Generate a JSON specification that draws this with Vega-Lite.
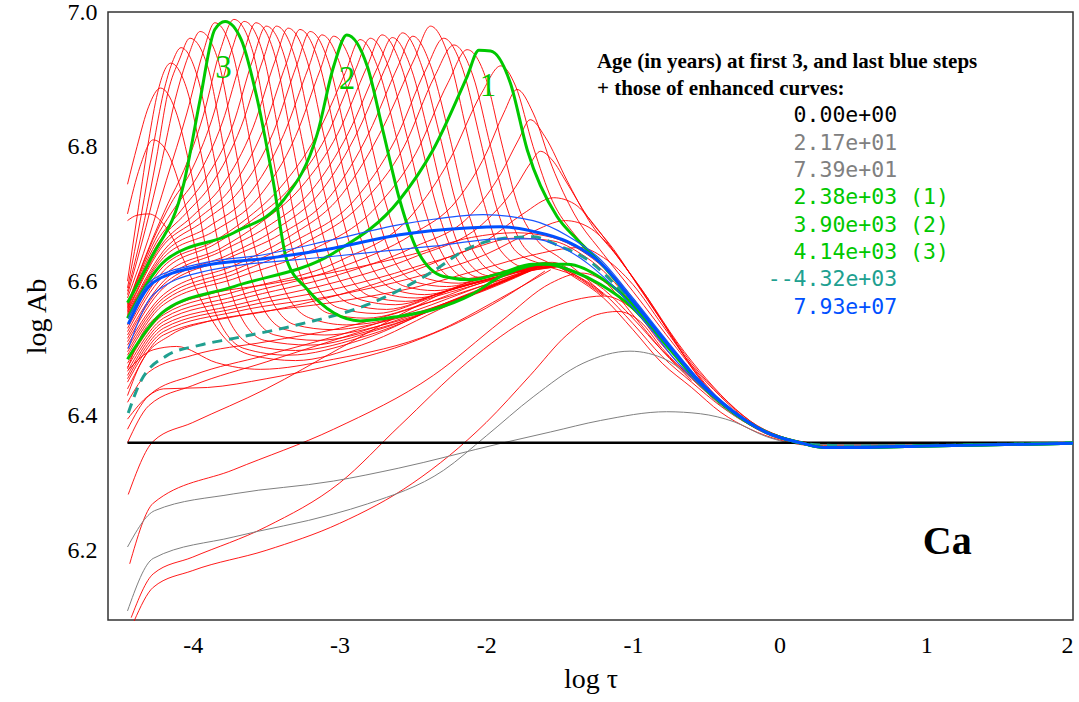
{
"$schema":"https://vega.github.io/schema/vega-lite/v6.json",
"width":965,"height":608,
"autosize":{"type":"none"},
"padding":{"left":108,"top":12,"right":6,"bottom":82},
"background":"white",
"config":{"view":{"stroke":"#333333","strokeWidth":1.5},"font":"Liberation Serif"},
"datasets":{
"red":[
{"c":"A1","x":-4.42,"y":6.1},{"c":"A1","x":-4.27,"y":6.165},{"c":"A1","x":-4.0,"y":6.19},{"c":"A1","x":-3.5,"y":6.235},{"c":"A1","x":-3.0,"y":6.3},{"c":"A1","x":-2.59,"y":6.385},{"c":"A1","x":-2.13,"y":6.479},{"c":"A1","x":-1.68,"y":6.548},{"c":"A1","x":-1.4,"y":6.572},{"c":"A1","x":-1.2,"y":6.578},{"c":"A1","x":-1.0,"y":6.558},{"c":"A1","x":-0.8,"y":6.505},{"c":"A1","x":-0.6,"y":6.457},{"c":"A1","x":-0.4,"y":6.418},{"c":"A1","x":-0.2,"y":6.388},{"c":"A1","x":0,"y":6.369},{"c":"A1","x":0.2,"y":6.36},{"c":"A1","x":0.6,"y":6.357},{"c":"A1","x":2.0,"y":6.36},
{"c":"A2","x":-4.4,"y":6.095},{"c":"A2","x":-4.27,"y":6.145},{"c":"A2","x":-4.0,"y":6.17},{"c":"A2","x":-3.5,"y":6.2},{"c":"A2","x":-3.0,"y":6.24},{"c":"A2","x":-2.5,"y":6.3},{"c":"A2","x":-2.0,"y":6.39},{"c":"A2","x":-1.7,"y":6.46},{"c":"A2","x":-1.45,"y":6.52},{"c":"A2","x":-1.25,"y":6.55},{"c":"A2","x":-1.1,"y":6.555},{"c":"A2","x":-0.95,"y":6.54},{"c":"A2","x":-0.8,"y":6.5},{"c":"A2","x":-0.6,"y":6.455},{"c":"A2","x":-0.4,"y":6.417},{"c":"A2","x":-0.2,"y":6.387},{"c":"A2","x":0,"y":6.368},{"c":"A2","x":0.2,"y":6.359},{"c":"A2","x":0.6,"y":6.357},{"c":"A2","x":2.0,"y":6.36},
{"c":"A3","x":-4.43,"y":6.18},{"c":"A3","x":-4.27,"y":6.27},{"c":"A3","x":-3.72,"y":6.32},{"c":"A3","x":-3.04,"y":6.38},{"c":"A3","x":-2.36,"y":6.46},{"c":"A3","x":-1.9,"y":6.54},{"c":"A3","x":-1.56,"y":6.597},{"c":"A3","x":-1.35,"y":6.612},{"c":"A3","x":-1.2,"y":6.6},{"c":"A3","x":-1.0,"y":6.55},{"c":"A3","x":-0.8,"y":6.497},{"c":"A3","x":-0.6,"y":6.452},
{"c":"A4","x":-4.44,"y":6.283},{"c":"A4","x":-4.27,"y":6.362},{"c":"A4","x":-4.0,"y":6.39},{"c":"A4","x":-3.5,"y":6.44},{"c":"A4","x":-3.0,"y":6.5},{"c":"A4","x":-2.5,"y":6.56},{"c":"A4","x":-2.13,"y":6.598},{"c":"A4","x":-1.8,"y":6.618},{"c":"A4","x":-1.5,"y":6.625},
{"c":"A5","x":-4.445,"y":6.36},{"c":"A5","x":-4.3,"y":6.415},{"c":"A5","x":-4.0,"y":6.445},{"c":"A5","x":-3.5,"y":6.48},{"c":"A5","x":-3.0,"y":6.515},{"c":"A5","x":-2.5,"y":6.55},{"c":"A5","x":-2.0,"y":6.59},{"c":"A5","x":-1.7,"y":6.615},{"c":"A5","x":-1.5,"y":6.625},
{"c":"A6","x":-4.445,"y":6.38},{"c":"A6","x":-4.3,"y":6.43},{"c":"A6","x":-4.0,"y":6.46},{"c":"A6","x":-3.5,"y":6.49},{"c":"A6","x":-3.0,"y":6.52},{"c":"A6","x":-2.5,"y":6.555},{"c":"A6","x":-2.0,"y":6.595},{"c":"A6","x":-1.6,"y":6.624},
{"c":"A7","x":-4.445,"y":6.42},{"c":"A7","x":-4.3,"y":6.465},{"c":"A7","x":-4.0,"y":6.49},{"c":"A7","x":-3.5,"y":6.51},{"c":"A7","x":-3.0,"y":6.53},{"c":"A7","x":-2.5,"y":6.56},{"c":"A7","x":-2.0,"y":6.6},{"c":"A7","x":-1.6,"y":6.625},
{"c":"W01","x":-4.445,"y":6.44},{"c":"W01","x":-4.2,"y":6.52},{"c":"W01","x":-3.7,"y":6.548},{"c":"W01","x":-3.0,"y":6.57},{"c":"W01","x":-2.5,"y":6.59},{"c":"W01","x":-2.0,"y":6.62},{"c":"W01","x":-1.7,"y":6.638},{"c":"W01","x":-1.36,"y":6.65},{"c":"W01","x":-1.2,"y":6.635},{"c":"W01","x":-1.0,"y":6.595},{"c":"W01","x":-0.8,"y":6.535},{"c":"W01","x":-0.6,"y":6.475},{"c":"W01","x":-0.4,"y":6.428},{"c":"W01","x":-0.2,"y":6.39},{"c":"W01","x":0,"y":6.369},{"c":"W01","x":0.2,"y":6.36},{"c":"W01","x":2.0,"y":6.36},
{"c":"W02","x":-4.445,"y":6.45},{"c":"W02","x":-4.2,"y":6.525},{"c":"W02","x":-3.7,"y":6.555},{"c":"W02","x":-3.0,"y":6.58},{"c":"W02","x":-2.5,"y":6.605},{"c":"W02","x":-2.0,"y":6.64},{"c":"W02","x":-1.7,"y":6.672},{"c":"W02","x":-1.46,"y":6.69},{"c":"W02","x":-1.3,"y":6.68},{"c":"W02","x":-1.15,"y":6.65},{"c":"W02","x":-1.0,"y":6.605},{"c":"W02","x":-0.8,"y":6.54},{"c":"W02","x":-0.6,"y":6.478},{"c":"W02","x":-0.4,"y":6.43},{"c":"W02","x":-0.2,"y":6.392},{"c":"W02","x":0,"y":6.37},{"c":"W02","x":0.2,"y":6.36},{"c":"W02","x":2.0,"y":6.36},
{"c":"W03","x":-4.445,"y":6.455},{"c":"W03","x":-4.2,"y":6.53},{"c":"W03","x":-3.7,"y":6.56},{"c":"W03","x":-3.0,"y":6.59},{"c":"W03","x":-2.5,"y":6.62},{"c":"W03","x":-2.0,"y":6.66},{"c":"W03","x":-1.75,"y":6.7},{"c":"W03","x":-1.54,"y":6.724},{"c":"W03","x":-1.4,"y":6.715},{"c":"W03","x":-1.25,"y":6.68},{"c":"W03","x":-1.1,"y":6.635},{"c":"W03","x":-0.9,"y":6.575},{"c":"W03","x":-0.7,"y":6.51},{"c":"W03","x":-0.5,"y":6.455},{"c":"W03","x":-0.3,"y":6.41},{"c":"W03","x":-0.1,"y":6.378},{"c":"W03","x":0.2,"y":6.36},{"c":"W03","x":2.0,"y":6.36},
{"c":"W04","x":-4.445,"y":6.46},{"c":"W04","x":-4.2,"y":6.535},{"c":"W04","x":-3.7,"y":6.565},{"c":"W04","x":-3.0,"y":6.6},{"c":"W04","x":-2.5,"y":6.635},{"c":"W04","x":-2.0,"y":6.69},{"c":"W04","x":-1.8,"y":6.74},{"c":"W04","x":-1.7,"y":6.775},{"c":"W04","x":-1.63,"y":6.793},{"c":"W04","x":-1.55,"y":6.78},{"c":"W04","x":-1.45,"y":6.746},{"c":"W04","x":-1.31,"y":6.696},{"c":"W04","x":-1.13,"y":6.647},{"c":"W04","x":-0.95,"y":6.588},{"c":"W04","x":-0.77,"y":6.53},{"c":"W04","x":-0.54,"y":6.454},{"c":"W04","x":-0.31,"y":6.405},{"c":"W04","x":-0.1,"y":6.377},{"c":"W04","x":0.15,"y":6.36},{"c":"W04","x":2.0,"y":6.36},
{"c":"W05","x":-4.445,"y":6.466},{"c":"W05","x":-4.2,"y":6.54},{"c":"W05","x":-3.7,"y":6.572},{"c":"W05","x":-3.0,"y":6.61},{"c":"W05","x":-2.5,"y":6.65},{"c":"W05","x":-2.1,"y":6.7},{"c":"W05","x":-1.9,"y":6.76},{"c":"W05","x":-1.78,"y":6.81},{"c":"W05","x":-1.7,"y":6.84},{"c":"W05","x":-1.6,"y":6.815},{"c":"W05","x":-1.45,"y":6.75},{"c":"W05","x":-1.3,"y":6.69},{"c":"W05","x":-1.1,"y":6.635},{"c":"W05","x":-0.9,"y":6.575},{"c":"W05","x":-0.7,"y":6.505},{"c":"W05","x":-0.4,"y":6.422},{"c":"W05","x":-0.1,"y":6.375},{"c":"W05","x":0.2,"y":6.36},{"c":"W05","x":2.0,"y":6.36},
{"c":"W06","x":-4.445,"y":6.472},{"c":"W06","x":-4.2,"y":6.545},{"c":"W06","x":-3.7,"y":6.578},{"c":"W06","x":-3.0,"y":6.62},{"c":"W06","x":-2.5,"y":6.67},{"c":"W06","x":-2.2,"y":6.72},{"c":"W06","x":-2.0,"y":6.79},{"c":"W06","x":-1.88,"y":6.85},{"c":"W06","x":-1.79,"y":6.885},{"c":"W06","x":-1.68,"y":6.85},{"c":"W06","x":-1.55,"y":6.77},{"c":"W06","x":-1.4,"y":6.7},{"c":"W06","x":-1.2,"y":6.64},{"c":"W06","x":-1.0,"y":6.585},{"c":"W06","x":-0.7,"y":6.5},{"c":"W06","x":-0.4,"y":6.42},{"c":"W06","x":-0.1,"y":6.374},{"c":"W06","x":0.2,"y":6.359},{"c":"W06","x":2.0,"y":6.36},
{"c":"W07","x":-4.445,"y":6.478},{"c":"W07","x":-4.2,"y":6.55},{"c":"W07","x":-3.7,"y":6.585},{"c":"W07","x":-3.0,"y":6.63},{"c":"W07","x":-2.5,"y":6.7},{"c":"W07","x":-2.25,"y":6.78},{"c":"W07","x":-2.03,"y":6.88},{"c":"W07","x":-1.9,"y":6.92},{"c":"W07","x":-1.8,"y":6.89},{"c":"W07","x":-1.68,"y":6.8},{"c":"W07","x":-1.55,"y":6.72},{"c":"W07","x":-1.4,"y":6.67},{"c":"W07","x":-1.2,"y":6.625},{"c":"W07","x":-1.0,"y":6.575},{"c":"W07","x":-0.8,"y":6.515},{"c":"W07","x":-0.6,"y":6.46},{"c":"W07","x":-0.4,"y":6.418},{"c":"W07","x":-0.2,"y":6.388},{"c":"W07","x":0,"y":6.369},{"c":"W07","x":0.2,"y":6.36},{"c":"W07","x":2.0,"y":6.36},
{"c":"W08","x":-4.445,"y":6.49},{"c":"W08","x":-4.2,"y":6.565},{"c":"W08","x":-3.7,"y":6.605},{"c":"W08","x":-3.2,"y":6.645},{"c":"W08","x":-2.75,"y":6.71},{"c":"W08","x":-2.48,"y":6.79},{"c":"W08","x":-2.26,"y":6.895},{"c":"W08","x":-2.13,"y":6.944},{"c":"W08","x":-2.0,"y":6.9},{"c":"W08","x":-1.9,"y":6.81},{"c":"W08","x":-1.78,"y":6.71},{"c":"W08","x":-1.65,"y":6.66},{"c":"W08","x":-1.5,"y":6.635},{"c":"W08","x":-1.35,"y":6.61},{"c":"W08","x":-1.2,"y":6.58},
{"c":"W09","x":-4.445,"y":6.495},{"c":"W09","x":-4.2,"y":6.57},{"c":"W09","x":-3.7,"y":6.612},{"c":"W09","x":-3.25,"y":6.655},{"c":"W09","x":-2.85,"y":6.715},{"c":"W09","x":-2.56,"y":6.8},{"c":"W09","x":-2.35,"y":6.905},{"c":"W09","x":-2.22,"y":6.951},{"c":"W09","x":-2.09,"y":6.905},{"c":"W09","x":-1.97,"y":6.8},{"c":"W09","x":-1.86,"y":6.71},{"c":"W09","x":-1.74,"y":6.65},{"c":"W09","x":-1.58,"y":6.628},{"c":"W09","x":-1.4,"y":6.61},{"c":"W09","x":-1.2,"y":6.58},
{"c":"W10","x":-4.445,"y":6.5},{"c":"W10","x":-4.2,"y":6.575},{"c":"W10","x":-3.7,"y":6.618},{"c":"W10","x":-3.3,"y":6.66},{"c":"W10","x":-2.9,"y":6.72},{"c":"W10","x":-2.62,"y":6.81},{"c":"W10","x":-2.41,"y":6.915},{"c":"W10","x":-2.29,"y":6.961},{"c":"W10","x":-2.16,"y":6.915},{"c":"W10","x":-2.04,"y":6.81},{"c":"W10","x":-1.93,"y":6.71},{"c":"W10","x":-1.8,"y":6.645},{"c":"W10","x":-1.62,"y":6.625},{"c":"W10","x":-1.4,"y":6.608},{"c":"W10","x":-1.2,"y":6.578},
{"c":"W11","x":-4.445,"y":6.505},{"c":"W11","x":-4.2,"y":6.58},{"c":"W11","x":-3.7,"y":6.625},{"c":"W11","x":-3.35,"y":6.665},{"c":"W11","x":-2.98,"y":6.73},{"c":"W11","x":-2.7,"y":6.83},{"c":"W11","x":-2.49,"y":6.93},{"c":"W11","x":-2.38,"y":6.979},{"c":"W11","x":-2.25,"y":6.93},{"c":"W11","x":-2.13,"y":6.82},{"c":"W11","x":-2.02,"y":6.72},{"c":"W11","x":-1.9,"y":6.645},{"c":"W11","x":-1.72,"y":6.62},{"c":"W11","x":-1.5,"y":6.622},
{"c":"W12","x":-4.445,"y":6.51},{"c":"W12","x":-4.2,"y":6.59},{"c":"W12","x":-3.75,"y":6.635},{"c":"W12","x":-3.4,"y":6.67},{"c":"W12","x":-3.05,"y":6.73},{"c":"W12","x":-2.8,"y":6.82},{"c":"W12","x":-2.6,"y":6.92},{"c":"W12","x":-2.5,"y":6.964},{"c":"W12","x":-2.37,"y":6.915},{"c":"W12","x":-2.25,"y":6.815},{"c":"W12","x":-2.14,"y":6.715},{"c":"W12","x":-2.02,"y":6.645},{"c":"W12","x":-1.85,"y":6.615},{"c":"W12","x":-1.68,"y":6.622},{"c":"W12","x":-1.5,"y":6.622},
{"c":"W13","x":-4.445,"y":6.515},{"c":"W13","x":-4.2,"y":6.595},{"c":"W13","x":-3.75,"y":6.64},{"c":"W13","x":-3.45,"y":6.675},{"c":"W13","x":-3.12,"y":6.735},{"c":"W13","x":-2.87,"y":6.825},{"c":"W13","x":-2.67,"y":6.925},{"c":"W13","x":-2.57,"y":6.969},{"c":"W13","x":-2.44,"y":6.92},{"c":"W13","x":-2.32,"y":6.82},{"c":"W13","x":-2.21,"y":6.72},{"c":"W13","x":-2.09,"y":6.645},{"c":"W13","x":-1.92,"y":6.612},{"c":"W13","x":-1.72,"y":6.62},{"c":"W13","x":-1.5,"y":6.622},
{"c":"W14","x":-4.445,"y":6.52},{"c":"W14","x":-4.2,"y":6.6},{"c":"W14","x":-3.8,"y":6.645},{"c":"W14","x":-3.5,"y":6.68},{"c":"W14","x":-3.19,"y":6.735},{"c":"W14","x":-2.94,"y":6.82},{"c":"W14","x":-2.74,"y":6.918},{"c":"W14","x":-2.64,"y":6.962},{"c":"W14","x":-2.51,"y":6.915},{"c":"W14","x":-2.39,"y":6.815},{"c":"W14","x":-2.28,"y":6.715},{"c":"W14","x":-2.16,"y":6.64},{"c":"W14","x":-1.98,"y":6.608},{"c":"W14","x":-1.76,"y":6.617},{"c":"W14","x":-1.5,"y":6.622},
{"c":"W15","x":-4.445,"y":6.525},{"c":"W15","x":-4.2,"y":6.608},{"c":"W15","x":-3.8,"y":6.65},{"c":"W15","x":-3.55,"y":6.685},{"c":"W15","x":-3.26,"y":6.74},{"c":"W15","x":-3.01,"y":6.82},{"c":"W15","x":-2.81,"y":6.92},{"c":"W15","x":-2.71,"y":6.966},{"c":"W15","x":-2.58,"y":6.92},{"c":"W15","x":-2.46,"y":6.82},{"c":"W15","x":-2.35,"y":6.72},{"c":"W15","x":-2.23,"y":6.645},{"c":"W15","x":-2.05,"y":6.606},{"c":"W15","x":-1.8,"y":6.615},{"c":"W15","x":-1.5,"y":6.622},
{"c":"W16","x":-4.445,"y":6.53},{"c":"W16","x":-4.2,"y":6.615},{"c":"W16","x":-3.85,"y":6.655},{"c":"W16","x":-3.6,"y":6.69},{"c":"W16","x":-3.33,"y":6.74},{"c":"W16","x":-3.09,"y":6.815},{"c":"W16","x":-2.89,"y":6.915},{"c":"W16","x":-2.79,"y":6.961},{"c":"W16","x":-2.66,"y":6.915},{"c":"W16","x":-2.54,"y":6.815},{"c":"W16","x":-2.43,"y":6.715},{"c":"W16","x":-2.31,"y":6.645},{"c":"W16","x":-2.12,"y":6.604},{"c":"W16","x":-1.85,"y":6.612},{"c":"W16","x":-1.5,"y":6.622},
{"c":"W17","x":-4.445,"y":6.535},{"c":"W17","x":-4.2,"y":6.622},{"c":"W17","x":-3.85,"y":6.66},{"c":"W17","x":-3.65,"y":6.69},{"c":"W17","x":-3.4,"y":6.74},{"c":"W17","x":-3.16,"y":6.815},{"c":"W17","x":-2.96,"y":6.91},{"c":"W17","x":-2.86,"y":6.959},{"c":"W17","x":-2.73,"y":6.912},{"c":"W17","x":-2.61,"y":6.812},{"c":"W17","x":-2.5,"y":6.712},{"c":"W17","x":-2.38,"y":6.642},{"c":"W17","x":-2.2,"y":6.603},{"c":"W17","x":-1.9,"y":6.61},{"c":"W17","x":-1.5,"y":6.622},
{"c":"W18","x":-4.445,"y":6.548},{"c":"W18","x":-4.2,"y":6.635},{"c":"W18","x":-3.85,"y":6.675},{"c":"W18","x":-3.55,"y":6.725},{"c":"W18","x":-3.3,"y":6.815},{"c":"W18","x":-3.13,"y":6.915},{"c":"W18","x":-3.04,"y":6.964},{"c":"W18","x":-2.91,"y":6.918},{"c":"W18","x":-2.8,"y":6.82},{"c":"W18","x":-2.69,"y":6.72},{"c":"W18","x":-2.57,"y":6.645},{"c":"W18","x":-2.39,"y":6.603},{"c":"W18","x":-2.19,"y":6.597},{"c":"W18","x":-1.95,"y":6.61},{"c":"W18","x":-1.6,"y":6.625},
{"c":"W19","x":-4.445,"y":6.55},{"c":"W19","x":-4.2,"y":6.64},{"c":"W19","x":-3.9,"y":6.68},{"c":"W19","x":-3.62,"y":6.728},{"c":"W19","x":-3.38,"y":6.818},{"c":"W19","x":-3.21,"y":6.918},{"c":"W19","x":-3.12,"y":6.966},{"c":"W19","x":-2.99,"y":6.918},{"c":"W19","x":-2.88,"y":6.82},{"c":"W19","x":-2.77,"y":6.72},{"c":"W19","x":-2.65,"y":6.64},{"c":"W19","x":-2.47,"y":6.598},{"c":"W19","x":-2.27,"y":6.592},{"c":"W19","x":-2.0,"y":6.605},{"c":"W19","x":-1.6,"y":6.625},
{"c":"W20","x":-4.445,"y":6.552},{"c":"W20","x":-4.2,"y":6.645},{"c":"W20","x":-3.92,"y":6.69},{"c":"W20","x":-3.68,"y":6.735},{"c":"W20","x":-3.45,"y":6.822},{"c":"W20","x":-3.29,"y":6.922},{"c":"W20","x":-3.2,"y":6.971},{"c":"W20","x":-3.07,"y":6.922},{"c":"W20","x":-2.96,"y":6.82},{"c":"W20","x":-2.85,"y":6.72},{"c":"W20","x":-2.73,"y":6.635},{"c":"W20","x":-2.55,"y":6.592},{"c":"W20","x":-2.35,"y":6.586},{"c":"W20","x":-2.05,"y":6.6},{"c":"W20","x":-1.6,"y":6.625},
{"c":"W21","x":-4.445,"y":6.554},{"c":"W21","x":-4.22,"y":6.648},{"c":"W21","x":-3.97,"y":6.692},{"c":"W21","x":-3.74,"y":6.738},{"c":"W21","x":-3.52,"y":6.825},{"c":"W21","x":-3.36,"y":6.925},{"c":"W21","x":-3.27,"y":6.974},{"c":"W21","x":-3.14,"y":6.925},{"c":"W21","x":-3.03,"y":6.82},{"c":"W21","x":-2.92,"y":6.715},{"c":"W21","x":-2.8,"y":6.63},{"c":"W21","x":-2.62,"y":6.587},{"c":"W21","x":-2.42,"y":6.58},{"c":"W21","x":-2.1,"y":6.597},{"c":"W21","x":-1.6,"y":6.625},
{"c":"W22","x":-4.445,"y":6.556},{"c":"W22","x":-4.22,"y":6.652},{"c":"W22","x":-4.0,"y":6.697},{"c":"W22","x":-3.8,"y":6.742},{"c":"W22","x":-3.59,"y":6.828},{"c":"W22","x":-3.44,"y":6.927},{"c":"W22","x":-3.35,"y":6.976},{"c":"W22","x":-3.22,"y":6.927},{"c":"W22","x":-3.11,"y":6.82},{"c":"W22","x":-3.0,"y":6.712},{"c":"W22","x":-2.88,"y":6.625},{"c":"W22","x":-2.7,"y":6.582},{"c":"W22","x":-2.48,"y":6.575},{"c":"W22","x":-2.15,"y":6.593},{"c":"W22","x":-1.6,"y":6.625},
{"c":"W23","x":-4.445,"y":6.558},{"c":"W23","x":-4.24,"y":6.655},{"c":"W23","x":-4.05,"y":6.7},{"c":"W23","x":-3.87,"y":6.745},{"c":"W23","x":-3.67,"y":6.83},{"c":"W23","x":-3.52,"y":6.93},{"c":"W23","x":-3.43,"y":6.979},{"c":"W23","x":-3.3,"y":6.93},{"c":"W23","x":-3.19,"y":6.82},{"c":"W23","x":-3.08,"y":6.71},{"c":"W23","x":-2.96,"y":6.62},{"c":"W23","x":-2.78,"y":6.577},{"c":"W23","x":-2.55,"y":6.57},{"c":"W23","x":-2.2,"y":6.59},{"c":"W23","x":-1.6,"y":6.625},
{"c":"W24","x":-4.445,"y":6.56},{"c":"W24","x":-4.25,"y":6.657},{"c":"W24","x":-4.08,"y":6.705},{"c":"W24","x":-3.92,"y":6.75},{"c":"W24","x":-3.73,"y":6.83},{"c":"W24","x":-3.59,"y":6.93},{"c":"W24","x":-3.5,"y":6.979},{"c":"W24","x":-3.37,"y":6.93},{"c":"W24","x":-3.26,"y":6.815},{"c":"W24","x":-3.15,"y":6.7},{"c":"W24","x":-3.03,"y":6.615},{"c":"W24","x":-2.85,"y":6.572},{"c":"W24","x":-2.62,"y":6.565},{"c":"W24","x":-2.25,"y":6.587},{"c":"W24","x":-1.6,"y":6.625},
{"c":"W25","x":-4.445,"y":6.562},{"c":"W25","x":-4.26,"y":6.66},{"c":"W25","x":-4.12,"y":6.71},{"c":"W25","x":-3.97,"y":6.755},{"c":"W25","x":-3.8,"y":6.835},{"c":"W25","x":-3.66,"y":6.935},{"c":"W25","x":-3.57,"y":6.984},{"c":"W25","x":-3.44,"y":6.935},{"c":"W25","x":-3.33,"y":6.815},{"c":"W25","x":-3.22,"y":6.695},{"c":"W25","x":-3.1,"y":6.61},{"c":"W25","x":-2.92,"y":6.566},{"c":"W25","x":-2.68,"y":6.558},{"c":"W25","x":-2.3,"y":6.583},{"c":"W25","x":-1.6,"y":6.625},
{"c":"W26","x":-4.445,"y":6.564},{"c":"W26","x":-4.27,"y":6.662},{"c":"W26","x":-4.15,"y":6.715},{"c":"W26","x":-4.02,"y":6.76},{"c":"W26","x":-3.87,"y":6.84},{"c":"W26","x":-3.74,"y":6.94},{"c":"W26","x":-3.65,"y":6.986},{"c":"W26","x":-3.52,"y":6.937},{"c":"W26","x":-3.41,"y":6.815},{"c":"W26","x":-3.3,"y":6.69},{"c":"W26","x":-3.18,"y":6.605},{"c":"W26","x":-3.0,"y":6.56},{"c":"W26","x":-2.75,"y":6.552},{"c":"W26","x":-2.35,"y":6.577},{"c":"W26","x":-1.6,"y":6.625},
{"c":"W27","x":-4.445,"y":6.566},{"c":"W27","x":-4.28,"y":6.66},{"c":"W27","x":-4.17,"y":6.715},{"c":"W27","x":-4.06,"y":6.765},{"c":"W27","x":-3.93,"y":6.845},{"c":"W27","x":-3.81,"y":6.945},{"c":"W27","x":-3.72,"y":6.989},{"c":"W27","x":-3.59,"y":6.94},{"c":"W27","x":-3.48,"y":6.815},{"c":"W27","x":-3.37,"y":6.69},{"c":"W27","x":-3.25,"y":6.6},{"c":"W27","x":-3.07,"y":6.552},{"c":"W27","x":-2.82,"y":6.545},{"c":"W27","x":-2.4,"y":6.568},{"c":"W27","x":-1.6,"y":6.625},
{"c":"W28","x":-4.445,"y":6.575},{"c":"W28","x":-4.3,"y":6.665},{"c":"W28","x":-4.18,"y":6.75},{"c":"W28","x":-4.04,"y":6.85},{"c":"W28","x":-3.93,"y":6.94},{"c":"W28","x":-3.85,"y":6.984},{"c":"W28","x":-3.73,"y":6.94},{"c":"W28","x":-3.62,"y":6.82},{"c":"W28","x":-3.51,"y":6.69},{"c":"W28","x":-3.39,"y":6.595},{"c":"W28","x":-3.2,"y":6.545},{"c":"W28","x":-2.95,"y":6.535},{"c":"W28","x":-2.5,"y":6.552},{"c":"W28","x":-2.0,"y":6.59},{"c":"W28","x":-1.6,"y":6.625},
{"c":"W29","x":-4.445,"y":6.58},{"c":"W29","x":-4.32,"y":6.68},{"c":"W29","x":-4.22,"y":6.77},{"c":"W29","x":-4.12,"y":6.87},{"c":"W29","x":-4.03,"y":6.935},{"c":"W29","x":-3.95,"y":6.971},{"c":"W29","x":-3.83,"y":6.93},{"c":"W29","x":-3.72,"y":6.81},{"c":"W29","x":-3.61,"y":6.68},{"c":"W29","x":-3.49,"y":6.585},{"c":"W29","x":-3.3,"y":6.535},{"c":"W29","x":-3.05,"y":6.528},{"c":"W29","x":-2.6,"y":6.545},{"c":"W29","x":-2.0,"y":6.587},{"c":"W29","x":-1.6,"y":6.625},
{"c":"W30","x":-4.445,"y":6.585},{"c":"W30","x":-4.33,"y":6.69},{"c":"W30","x":-4.25,"y":6.78},{"c":"W30","x":-4.17,"y":6.88},{"c":"W30","x":-4.09,"y":6.93},{"c":"W30","x":-4.02,"y":6.961},{"c":"W30","x":-3.9,"y":6.92},{"c":"W30","x":-3.79,"y":6.8},{"c":"W30","x":-3.68,"y":6.67},{"c":"W30","x":-3.56,"y":6.578},{"c":"W30","x":-3.37,"y":6.528},{"c":"W30","x":-3.1,"y":6.52},{"c":"W30","x":-2.65,"y":6.538},{"c":"W30","x":-2.05,"y":6.584},{"c":"W30","x":-1.6,"y":6.625},
{"c":"W31","x":-4.445,"y":6.59},{"c":"W31","x":-4.35,"y":6.7},{"c":"W31","x":-4.27,"y":6.8},{"c":"W31","x":-4.2,"y":6.88},{"c":"W31","x":-4.14,"y":6.925},{"c":"W31","x":-4.08,"y":6.947},{"c":"W31","x":-3.97,"y":6.905},{"c":"W31","x":-3.86,"y":6.79},{"c":"W31","x":-3.75,"y":6.66},{"c":"W31","x":-3.63,"y":6.57},{"c":"W31","x":-3.44,"y":6.52},{"c":"W31","x":-3.15,"y":6.512},{"c":"W31","x":-2.7,"y":6.532},{"c":"W31","x":-2.1,"y":6.58},{"c":"W31","x":-1.6,"y":6.625},
{"c":"W32","x":-4.445,"y":6.6},{"c":"W32","x":-4.37,"y":6.71},{"c":"W32","x":-4.3,"y":6.81},{"c":"W32","x":-4.24,"y":6.88},{"c":"W32","x":-4.15,"y":6.924},{"c":"W32","x":-4.04,"y":6.885},{"c":"W32","x":-3.93,"y":6.775},{"c":"W32","x":-3.82,"y":6.65},{"c":"W32","x":-3.7,"y":6.56},{"c":"W32","x":-3.51,"y":6.512},{"c":"W32","x":-3.2,"y":6.505},{"c":"W32","x":-2.75,"y":6.527},{"c":"W32","x":-2.15,"y":6.577},{"c":"W32","x":-1.6,"y":6.625},
{"c":"W33","x":-4.445,"y":6.744},{"c":"W33","x":-4.38,"y":6.8},{"c":"W33","x":-4.3,"y":6.86},{"c":"W33","x":-4.22,"y":6.887},{"c":"W33","x":-4.12,"y":6.855},{"c":"W33","x":-4.01,"y":6.76},{"c":"W33","x":-3.9,"y":6.64},{"c":"W33","x":-3.78,"y":6.555},{"c":"W33","x":-3.59,"y":6.505},{"c":"W33","x":-3.3,"y":6.497},{"c":"W33","x":-2.8,"y":6.52},{"c":"W33","x":-2.2,"y":6.573},{"c":"W33","x":-1.6,"y":6.625},
{"c":"W34","x":-4.445,"y":6.7},{"c":"W34","x":-4.36,"y":6.77},{"c":"W34","x":-4.27,"y":6.81},{"c":"W34","x":-4.17,"y":6.79},{"c":"W34","x":-4.06,"y":6.72},{"c":"W34","x":-3.95,"y":6.62},{"c":"W34","x":-3.83,"y":6.545},{"c":"W34","x":-3.65,"y":6.5},{"c":"W34","x":-3.35,"y":6.49},{"c":"W34","x":-2.85,"y":6.513},{"c":"W34","x":-2.25,"y":6.57},{"c":"W34","x":-1.6,"y":6.625},
{"c":"W35","x":-4.445,"y":6.69},{"c":"W35","x":-4.38,"y":6.698},{"c":"W35","x":-4.3,"y":6.7},{"c":"W35","x":-4.2,"y":6.685},{"c":"W35","x":-4.08,"y":6.64},{"c":"W35","x":-3.95,"y":6.575},{"c":"W35","x":-3.8,"y":6.52},{"c":"W35","x":-3.6,"y":6.49},{"c":"W35","x":-3.3,"y":6.482},{"c":"W35","x":-2.85,"y":6.505},{"c":"W35","x":-2.25,"y":6.565},{"c":"W35","x":-1.6,"y":6.625},
{"c":"Pa","x":-4.44,"y":6.468},{"c":"Pa","x":-4.27,"y":6.498},{"c":"Pa","x":-4.11,"y":6.503},{"c":"Pa","x":-3.84,"y":6.479},{"c":"Pa","x":-3.54,"y":6.469},{"c":"Pa","x":-3.04,"y":6.484},{"c":"Pa","x":-2.36,"y":6.523},{"c":"Pa","x":-1.9,"y":6.575},{"c":"Pa","x":-1.56,"y":6.617},
{"c":"Pb","x":-4.445,"y":6.395},{"c":"Pb","x":-4.3,"y":6.43},{"c":"Pb","x":-4.2,"y":6.44},{"c":"Pb","x":-3.9,"y":6.442},{"c":"Pb","x":-3.5,"y":6.455},{"c":"Pb","x":-3.0,"y":6.478},{"c":"Pb","x":-2.5,"y":6.51},{"c":"Pb","x":-2.0,"y":6.56},{"c":"Pb","x":-1.6,"y":6.615},
{"c":"R1","x":-4.445,"y":6.43},{"c":"R1","x":-4.35,"y":6.48},{"c":"R1","x":-4.15,"y":6.52},{"c":"R1","x":-3.9,"y":6.54},{"c":"R1","x":-3.5,"y":6.555},{"c":"R1","x":-3.0,"y":6.58},{"c":"R1","x":-2.5,"y":6.615},{"c":"R1","x":-2.1,"y":6.648},{"c":"R1","x":-1.8,"y":6.664},{"c":"R1","x":-1.55,"y":6.66},{"c":"R1","x":-1.35,"y":6.64},{"c":"R1","x":-1.2,"y":6.615},{"c":"R1","x":-1.0,"y":6.565},
{"c":"R2","x":-4.445,"y":6.47},{"c":"R2","x":-4.35,"y":6.52},{"c":"R2","x":-4.15,"y":6.56},{"c":"R2","x":-3.9,"y":6.58},{"c":"R2","x":-3.5,"y":6.595},{"c":"R2","x":-3.0,"y":6.615},{"c":"R2","x":-2.5,"y":6.64},{"c":"R2","x":-2.1,"y":6.665},{"c":"R2","x":-1.8,"y":6.672},{"c":"R2","x":-1.55,"y":6.665},{"c":"R2","x":-1.35,"y":6.645},{"c":"R2","x":-1.2,"y":6.62},{"c":"R2","x":-1.0,"y":6.568},
{"c":"B1","x":-1.7,"y":6.622},{"c":"B1","x":-1.6,"y":6.627},{"c":"B1","x":-1.4,"y":6.61},{"c":"B1","x":-1.2,"y":6.582},{"c":"B1","x":-1.0,"y":6.537},{"c":"B1","x":-0.8,"y":6.488},{"c":"B1","x":-0.6,"y":6.45},{"c":"B1","x":-0.4,"y":6.414},{"c":"B1","x":-0.2,"y":6.386},{"c":"B1","x":0,"y":6.368},{"c":"B1","x":0.2,"y":6.358},{"c":"B1","x":0.4,"y":6.356},{"c":"B1","x":0.8,"y":6.358},{"c":"B1","x":2.0,"y":6.36},
{"c":"B2","x":-1.7,"y":6.625},{"c":"B2","x":-1.55,"y":6.628},{"c":"B2","x":-1.4,"y":6.614},{"c":"B2","x":-1.2,"y":6.588},{"c":"B2","x":-1.0,"y":6.545},{"c":"B2","x":-0.8,"y":6.497},{"c":"B2","x":-0.6,"y":6.457},{"c":"B2","x":-0.4,"y":6.42},{"c":"B2","x":-0.2,"y":6.39},{"c":"B2","x":0,"y":6.37},{"c":"B2","x":0.2,"y":6.36},{"c":"B2","x":0.4,"y":6.357},{"c":"B2","x":0.8,"y":6.358},{"c":"B2","x":2.0,"y":6.36},
{"c":"B3","x":-1.7,"y":6.62},{"c":"B3","x":-1.55,"y":6.624},{"c":"B3","x":-1.4,"y":6.606},{"c":"B3","x":-1.2,"y":6.575},{"c":"B3","x":-1.0,"y":6.528},{"c":"B3","x":-0.8,"y":6.478},{"c":"B3","x":-0.6,"y":6.442},{"c":"B3","x":-0.4,"y":6.405},{"c":"B3","x":-0.2,"y":6.38},{"c":"B3","x":0,"y":6.364},{"c":"B3","x":0.2,"y":6.356},{"c":"B3","x":0.4,"y":6.355},{"c":"B3","x":0.8,"y":6.357},{"c":"B3","x":2.0,"y":6.36}
],
"grey":[
{"c":"GA","x":-4.445,"y":6.205},{"c":"GA","x":-4.26,"y":6.259},{"c":"GA","x":-3.72,"y":6.284},{"c":"GA","x":-3.04,"y":6.303},{"c":"GA","x":-2.6,"y":6.322},{"c":"GA","x":-1.9,"y":6.359},{"c":"GA","x":-1.56,"y":6.376},{"c":"GA","x":-1.22,"y":6.393},{"c":"GA","x":-0.77,"y":6.406},{"c":"GA","x":-0.54,"y":6.403},{"c":"GA","x":-0.31,"y":6.391},{"c":"GA","x":-0.09,"y":6.369},{"c":"GA","x":0.15,"y":6.358},{"c":"GA","x":0.5,"y":6.357},{"c":"GA","x":2.0,"y":6.36},
{"c":"GB","x":-4.445,"y":6.11},{"c":"GB","x":-4.27,"y":6.188},{"c":"GB","x":-3.72,"y":6.22},{"c":"GB","x":-3.04,"y":6.254},{"c":"GB","x":-2.81,"y":6.269},{"c":"GB","x":-2.29,"y":6.319},{"c":"GB","x":-2.0,"y":6.37},{"c":"GB","x":-1.68,"y":6.428},{"c":"GB","x":-1.34,"y":6.478},{"c":"GB","x":-1.02,"y":6.496},{"c":"GB","x":-0.77,"y":6.483},{"c":"GB","x":-0.65,"y":6.465},{"c":"GB","x":-0.4,"y":6.415},{"c":"GB","x":-0.2,"y":6.386},{"c":"GB","x":0,"y":6.368},{"c":"GB","x":0.2,"y":6.358},{"c":"GB","x":0.5,"y":6.356},{"c":"GB","x":2.0,"y":6.36}
],
"black":[{"c":"K","x":-4.445,"y":6.36},{"c":"K","x":2.0,"y":6.36}],
"green":[
{"c":"G1","x":-4.445,"y":6.484},{"c":"G1","x":-4.18,"y":6.558},{"c":"G1","x":-3.72,"y":6.592},{"c":"G1","x":-3.04,"y":6.642},{"c":"G1","x":-2.59,"y":6.721},{"c":"G1","x":-2.36,"y":6.796},{"c":"G1","x":-2.13,"y":6.904},{"c":"G1","x":-2.05,"y":6.943},{"c":"G1","x":-1.97,"y":6.942},{"c":"G1","x":-1.836,"y":6.895},{"c":"G1","x":-1.72,"y":6.795},{"c":"G1","x":-1.517,"y":6.696},{"c":"G1","x":-1.38,"y":6.662},{"c":"G1","x":-1.22,"y":6.627},{"c":"G1","x":-1.0,"y":6.57},{"c":"G1","x":-0.77,"y":6.508},{"c":"G1","x":-0.54,"y":6.449},{"c":"G1","x":-0.31,"y":6.405},{"c":"G1","x":-0.086,"y":6.375},{"c":"G1","x":0.14,"y":6.36},{"c":"G1","x":0.3,"y":6.353},{"c":"G1","x":0.6,"y":6.353},{"c":"G1","x":1.0,"y":6.355},{"c":"G1","x":2.0,"y":6.359},
{"c":"G2","x":-4.445,"y":6.545},{"c":"G2","x":-4.18,"y":6.632},{"c":"G2","x":-3.72,"y":6.672},{"c":"G2","x":-3.38,"y":6.721},{"c":"G2","x":-3.15,"y":6.82},{"c":"G2","x":-3.04,"y":6.919},{"c":"G2","x":-2.95,"y":6.966},{"c":"G2","x":-2.81,"y":6.919},{"c":"G2","x":-2.7,"y":6.82},{"c":"G2","x":-2.59,"y":6.721},{"c":"G2","x":-2.47,"y":6.646},{"c":"G2","x":-2.29,"y":6.607},{"c":"G2","x":-2.1,"y":6.602},{"c":"G2","x":-1.9,"y":6.612},{"c":"G2","x":-1.68,"y":6.625},{"c":"G2","x":-1.45,"y":6.625},{"c":"G2","x":-1.22,"y":6.605},{"c":"G2","x":-1.0,"y":6.565},{"c":"G2","x":-0.77,"y":6.506},{"c":"G2","x":-0.54,"y":6.448},{"c":"G2","x":-0.31,"y":6.404},{"c":"G2","x":-0.086,"y":6.375},{"c":"G2","x":0.14,"y":6.36},{"c":"G2","x":0.3,"y":6.353},{"c":"G2","x":0.6,"y":6.353},{"c":"G2","x":1.0,"y":6.355},{"c":"G2","x":2.0,"y":6.359},
{"c":"G3","x":-4.445,"y":6.568},{"c":"G3","x":-4.29,"y":6.632},{"c":"G3","x":-4.06,"y":6.746},{"c":"G3","x":-3.95,"y":6.87},{"c":"G3","x":-3.85,"y":6.974},{"c":"G3","x":-3.78,"y":6.986},{"c":"G3","x":-3.67,"y":6.959},{"c":"G3","x":-3.56,"y":6.87},{"c":"G3","x":-3.45,"y":6.746},{"c":"G3","x":-3.36,"y":6.632},{"c":"G3","x":-3.22,"y":6.588},{"c":"G3","x":-3.04,"y":6.553},{"c":"G3","x":-2.86,"y":6.541},{"c":"G3","x":-2.59,"y":6.548},{"c":"G3","x":-2.36,"y":6.558},{"c":"G3","x":-2.1,"y":6.58},{"c":"G3","x":-1.9,"y":6.607},{"c":"G3","x":-1.6,"y":6.626},{"c":"G3","x":-1.4,"y":6.614},{"c":"G3","x":-1.22,"y":6.595},{"c":"G3","x":-1.0,"y":6.56},{"c":"G3","x":-0.77,"y":6.504},{"c":"G3","x":-0.54,"y":6.447},{"c":"G3","x":-0.31,"y":6.404},{"c":"G3","x":-0.086,"y":6.375},{"c":"G3","x":0.14,"y":6.36},{"c":"G3","x":0.3,"y":6.353},{"c":"G3","x":0.6,"y":6.353},{"c":"G3","x":1.0,"y":6.355},{"c":"G3","x":2.0,"y":6.359}
],
"teal":[
{"c":"T","x":-4.44,"y":6.404},{"c":"T","x":-4.36,"y":6.449},{"c":"T","x":-4.18,"y":6.489},{"c":"T","x":-3.95,"y":6.505},{"c":"T","x":-3.72,"y":6.515},{"c":"T","x":-3.27,"y":6.536},{"c":"T","x":-2.81,"y":6.565},{"c":"T","x":-2.36,"y":6.615},{"c":"T","x":-2.13,"y":6.648},{"c":"T","x":-1.9,"y":6.663},{"c":"T","x":-1.68,"y":6.666},{"c":"T","x":-1.5,"y":6.652},{"c":"T","x":-1.31,"y":6.632},{"c":"T","x":-1.1,"y":6.59},{"c":"T","x":-0.9,"y":6.54},{"c":"T","x":-0.7,"y":6.49},{"c":"T","x":-0.5,"y":6.44},{"c":"T","x":-0.3,"y":6.403},{"c":"T","x":-0.1,"y":6.377},{"c":"T","x":0.2,"y":6.358},{"c":"T","x":0.5,"y":6.355},{"c":"T","x":2.0,"y":6.36}
],
"bluethin":[
{"c":"U","x":-4.44,"y":6.545},{"c":"U","x":-4.27,"y":6.603},{"c":"U","x":-3.95,"y":6.626},{"c":"U","x":-3.5,"y":6.64},{"c":"U","x":-3.04,"y":6.662},{"c":"U","x":-2.59,"y":6.684},{"c":"U","x":-2.36,"y":6.692},{"c":"U","x":-2.02,"y":6.699},{"c":"U","x":-1.68,"y":6.69},{"c":"U","x":-1.45,"y":6.668},{"c":"U","x":-1.22,"y":6.632},{"c":"U","x":-1.0,"y":6.575},{"c":"U","x":-0.77,"y":6.512},{"c":"U","x":-0.54,"y":6.452},{"c":"U","x":-0.31,"y":6.407},{"c":"U","x":-0.086,"y":6.376},{"c":"U","x":0.14,"y":6.36},{"c":"U","x":0.3,"y":6.354},{"c":"U","x":1.0,"y":6.356},{"c":"U","x":2.0,"y":6.359},
{"c":"L","x":-4.44,"y":6.5},{"c":"L","x":-4.27,"y":6.58},{"c":"L","x":-3.95,"y":6.613},{"c":"L","x":-3.04,"y":6.637},{"c":"L","x":-2.59,"y":6.647},{"c":"L","x":-2.36,"y":6.652},{"c":"L","x":-1.9,"y":6.663},{"c":"L","x":-1.68,"y":6.663},{"c":"L","x":-1.5,"y":6.652},{"c":"L","x":-1.3,"y":6.625},{"c":"L","x":-1.1,"y":6.585},{"c":"L","x":-0.9,"y":6.535},{"c":"L","x":-0.7,"y":6.48},{"c":"L","x":-0.5,"y":6.438},{"c":"L","x":-0.3,"y":6.402},{"c":"L","x":-0.1,"y":6.375},{"c":"L","x":0.14,"y":6.359},{"c":"L","x":0.3,"y":6.353},{"c":"L","x":1.0,"y":6.355},{"c":"L","x":2.0,"y":6.359}
],
"blue":[
{"c":"F","x":-4.44,"y":6.536},{"c":"F","x":-4.27,"y":6.598},{"c":"F","x":-3.95,"y":6.622},{"c":"F","x":-3.49,"y":6.634},{"c":"F","x":-3.04,"y":6.649},{"c":"F","x":-2.59,"y":6.669},{"c":"F","x":-2.13,"y":6.679},{"c":"F","x":-1.9,"y":6.681},{"c":"F","x":-1.68,"y":6.674},{"c":"F","x":-1.45,"y":6.659},{"c":"F","x":-1.22,"y":6.627},{"c":"F","x":-1.0,"y":6.57},{"c":"F","x":-0.77,"y":6.508},{"c":"F","x":-0.54,"y":6.449},{"c":"F","x":-0.31,"y":6.405},{"c":"F","x":-0.086,"y":6.375},{"c":"F","x":0.14,"y":6.36},{"c":"F","x":0.3,"y":6.353},{"c":"F","x":0.6,"y":6.353},{"c":"F","x":1.0,"y":6.355},{"c":"F","x":2.0,"y":6.359}
],
"ticksx":[{"v":-4},{"v":-3},{"v":-2},{"v":-1},{"v":0},{"v":1},{"v":2}],
"ticksy":[{"v":6.2},{"v":6.4},{"v":6.6},{"v":6.8},{"v":7.0}],
"head":[
{"t":"Age (in years) at first 3, and last blue steps","x":-1.245,"y":6.9169},
{"t":"+ those of enhanced curves:","x":-1.245,"y":6.8772}
],
"leg":[
{"t":"0.00e+00","k":"black","x":0.0954,"y":6.8362},
{"t":"2.17e+01","k":"grey","x":0.0954,"y":6.7955},
{"t":"7.39e+01","k":"grey","x":0.0954,"y":6.755},
{"t":"2.38e+03 (1)","k":"green","x":0.0954,"y":6.7143},
{"t":"3.90e+03 (2)","k":"green","x":0.0954,"y":6.6733},
{"t":"4.14e+03 (3)","k":"green","x":0.0954,"y":6.6327},
{"t":"--4.32e+03","k":"teal","x":-0.081,"y":6.5921},
{"t":"7.93e+07","k":"blue","x":0.0954,"y":6.5516}
],
"nums":[
{"t":"3","x":-3.79,"y":6.902},
{"t":"2","x":-2.949,"y":6.8857},
{"t":"1","x":-1.988,"y":6.8747}
],
"elem":[{"t":"Ca","x":1.143,"y":6.194}]
},
"encoding":{
"x":{"field":"x","type":"quantitative","scale":{"domain":[-4.578,2.0],"nice":false,"zero":false},"axis":null},
"y":{"field":"y","type":"quantitative","scale":{"domain":[6.0965,7.0],"nice":false,"zero":false},"axis":null}
},
"resolve":{"axis":{"x":"independent","y":"independent"}},
"layer":[
{"data":{"name":"red"},"mark":{"type":"line","color":"#ff0000","strokeWidth":0.9,"interpolate":"monotone"},
 "encoding":{"detail":{"field":"c"},
  "x":{"field":"x","type":"quantitative","scale":{"domain":[-4.578,2.0],"nice":false,"zero":false},
   "axis":{"orient":"bottom","values":[-4,-3,-2,-1,0,1,2],"labelExpr":"'' + datum.value","domain":false,"ticks":false,"tickSize":0,"grid":false,"labelFont":"Liberation Serif","labelFontSize":24,"labelColor":"#000000","labelPadding":13,"title":"log τ","titleFont":"Liberation Serif","titleFontSize":28,"titleFontWeight":"normal","titleColor":"#000000","titlePadding":8}},
  "y":{"field":"y","type":"quantitative","scale":{"domain":[6.0965,7.0],"nice":false,"zero":false},
   "axis":{"orient":"left","values":[6.2,6.4,6.6,6.8,7.0],"format":".1f","domain":false,"ticks":false,"tickSize":0,"grid":false,"labelFont":"Liberation Serif","labelFontSize":24,"labelColor":"#000000","labelPadding":11,"title":"log Ab","titleFont":"Liberation Serif","titleFontSize":28,"titleFontWeight":"normal","titleColor":"#000000","titlePadding":16}}}},
{"data":{"name":"grey"},"mark":{"type":"line","color":"#808080","strokeWidth":1,"interpolate":"monotone"},"encoding":{"detail":{"field":"c"}}},
{"data":{"name":"black"},"mark":{"type":"line","color":"#000000","strokeWidth":2.5},"encoding":{"detail":{"field":"c"}}},
{"data":{"name":"teal"},"mark":{"type":"line","color":"#20a090","strokeWidth":3,"strokeDash":[10,7],"interpolate":"monotone"},"encoding":{"detail":{"field":"c"}}},
{"data":{"name":"green"},"mark":{"type":"line","color":"#00c800","strokeWidth":3,"interpolate":"monotone"},"encoding":{"detail":{"field":"c"}}},
{"data":{"name":"bluethin"},"mark":{"type":"line","color":"#1a55ff","strokeWidth":1.2,"interpolate":"monotone"},"encoding":{"detail":{"field":"c"}}},
{"data":{"name":"blue"},"mark":{"type":"line","color":"#0050ff","strokeWidth":3,"interpolate":"monotone"},"encoding":{"detail":{"field":"c"}}},
{"data":{"name":"ticksx"},"mark":{"type":"tick","orient":"vertical","color":"#000000","size":34,"thickness":1.2,"opacity":1},
 "encoding":{"x":{"field":"v","type":"quantitative","axis":null},"y":{"datum":6.0965,"type":"quantitative","axis":null}}},
{"data":{"name":"ticksx"},"mark":{"type":"tick","orient":"vertical","color":"#000000","size":34,"thickness":1.2,"opacity":1},
 "encoding":{"x":{"field":"v","type":"quantitative","axis":null},"y":{"datum":7.0,"type":"quantitative","axis":null}}},
{"data":{"name":"ticksy"},"mark":{"type":"tick","orient":"horizontal","color":"#000000","size":34,"thickness":1.2,"opacity":1},
 "encoding":{"y":{"field":"v","type":"quantitative","axis":null},"x":{"datum":-4.578,"type":"quantitative","axis":null}}},
{"data":{"name":"ticksy"},"mark":{"type":"tick","orient":"horizontal","color":"#000000","size":34,"thickness":1.2,"opacity":1},
 "encoding":{"y":{"field":"v","type":"quantitative","axis":null},"x":{"datum":2.0,"type":"quantitative","axis":null}}},
{"data":{"name":"head"},"mark":{"type":"text","align":"left","baseline":"alphabetic","font":"Liberation Serif","fontWeight":"bold","fontSize":21,"color":"#000000"},"encoding":{"text":{"field":"t"}}},
{"data":{"name":"leg"},"mark":{"type":"text","align":"left","baseline":"alphabetic","font":"DejaVu Sans Mono","fontSize":21.5},
 "encoding":{"text":{"field":"t"},"color":{"field":"k","type":"nominal","scale":{"domain":["black","grey","green","teal","blue"],"range":["#000000","#808080","#00c800","#20a090","#0050ff"]},"legend":null}}},
{"data":{"name":"nums"},"mark":{"type":"text","align":"center","baseline":"alphabetic","font":"Liberation Serif","fontSize":33,"color":"#00c800"},"encoding":{"text":{"field":"t"}}},
{"data":{"name":"elem"},"mark":{"type":"text","align":"center","baseline":"alphabetic","font":"Liberation Serif","fontWeight":"bold","fontSize":40,"color":"#000000"},"encoding":{"text":{"field":"t"}}}
]
}
